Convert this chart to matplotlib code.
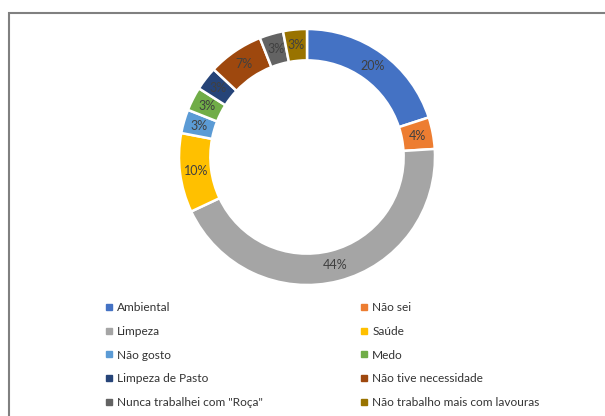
import matplotlib.pyplot as plt
from matplotlib.lines import Line2D
from matplotlib.patches import Rectangle

categorias = ["Ambiental", "Não sei", "Limpeza", "Saúde", "Não gosto", "Medo",
              "Limpeza de Pasto", "Não tive necessidade",
              "Nunca trabalhei com \"Roça\"", "Não trabalho mais com lavouras"]
valores = [20, 4, 44, 10, 3, 3, 3, 7, 3, 3]
cores = ["#4472C4", "#ED7D31", "#A5A5A5", "#FFC000", "#5B9BD5", "#70AD47",
         "#264478", "#9E480E", "#636363", "#997300"]

plt.rcParams["font.family"] = ["Lato", "DejaVu Sans"]

fig = plt.figure(figsize=(6.05, 4.16), dpi=100)

# moldura do grafico
fig.patches.append(Rectangle((9 / 605, -0.1), 1.0, (416 - 13) / 416 + 0.1,
                             transform=fig.transFigure, fill=False,
                             edgecolor="#808080", lw=1.5))

cx, cy, r = 307, 157, 128
ax = fig.add_axes([(cx - r) / 605, (416 - cy - r) / 416, 2 * r / 605, 2 * r / 416])
ax.pie(valores, colors=cores, startangle=90, counterclock=False,
       wedgeprops=dict(width=0.245, edgecolor="white", linewidth=1.8),
       autopct=lambda p: f"{p:.0f}%", pctdistance=0.875,
       textprops=dict(color="#404040", fontsize=9))
ax.set_xlim(-1, 1)
ax.set_ylim(-1, 1)

# legenda em duas colunas (ordem por linha)
def handle(c):
    return Line2D([], [], marker="s", linestyle="none", markersize=4,
                  markerfacecolor=c, markeredgecolor=c)

for col, x0 in [(0, 104), (1, 359)]:
    idx = list(range(col, len(categorias), 2))
    fig.legend([handle(cores[i]) for i in idx], [categorias[i] for i in idx],
               loc="upper left", bbox_to_anchor=(x0 / 605, 1 - 302 / 416),
               frameon=False, fontsize=8.6, labelcolor="#333333",
               handlelength=0.8, handletextpad=0.3, borderpad=0,
               borderaxespad=0, labelspacing=1.07)

plt.savefig("out.png", dpi=100)
plt.close()
